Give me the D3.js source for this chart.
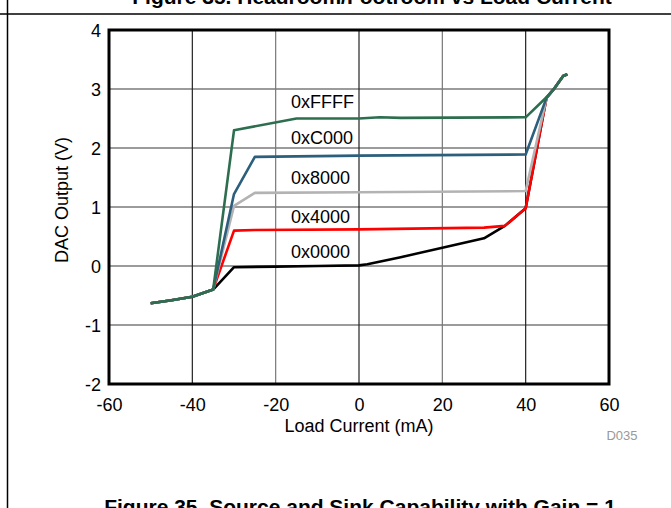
<!DOCTYPE html>
<html>
<meta charset="utf-8">
<style>
body { margin: 0; background: #fff; }
svg text { font-family: "Liberation Sans", Arial, sans-serif; fill: #000; }
.tick-label { font-size: 18px; }
.axis-title { font-size: 18px; }
.code-label { font-size: 18px; }
.fig-title { font-size: 21px; font-weight: bold; }
.grid-h { stroke: #7a7a7a; stroke-width: 1.5; }
.grid-v { stroke: #222; stroke-width: 1.2; }
.grid-v.light { stroke: #777; }
.curve { fill: none; stroke-width: 2.6; stroke-linejoin: round; }
</style>
<body>
<script src="https://d3js.org/d3.v7.min.js"></script>
<script>

// tick values
var xTicks = [-60, -40, -20, 0, 20, 40, 60];
var yTicks = [-2, -1, 0, 1, 2, 3, 4];

// DAC codes, bottom to top
var codes = ["0x0000", "0x4000", "0x8000", "0xC000", "0xFFFF"];

// load current (mA) / output (V)
var x0000 = [-50, -45, -40, -35, -30, -20, -10, 0, 2, 10, 20, 30, 35, 40, 45, 47, 49, 50];
var y0000 = [-0.63, -0.58, -0.52, -0.40, -0.02, -0.01, 0, 0.01, 0.03, 0.15, 0.31, 0.47, 0.68, 0.98, 2.85, 3.02, 3.22, 3.25];

var x4000 = [-50, -45, -40, -35, -30, -25, 0, 30, 35, 40, 45, 47, 49, 50];
var y4000 = [-0.63, -0.58, -0.52, -0.40, 0.60, 0.61, 0.62, 0.65, 0.68, 0.98, 2.85, 3.02, 3.22, 3.25];

var x8000 = [-50, -45, -40, -35, -30, -25, 0, 40, 45, 47, 49, 50];
var y8000 = [-0.63, -0.58, -0.52, -0.40, 1.02, 1.24, 1.25, 1.27, 2.85, 3.02, 3.22, 3.25];

var xC000 = [-50, -45, -40, -35, -30, -25, 0, 40, 45, 47, 49, 50];
var yC000 = [-0.63, -0.58, -0.52, -0.40, 1.22, 1.85, 1.87, 1.89, 2.85, 3.02, 3.22, 3.25];

var xFFFF = [-50, -45, -40, -35, -30, -15, 0, 5, 10, 40, 45, 47, 49, 50];
var yFFFF = [-0.63, -0.58, -0.52, -0.40, 2.30, 2.50, 2.50, 2.52, 2.51, 2.52, 2.86, 3.02, 3.22, 3.25];

var colors = ["#000000", "#ff0000", "#b3b3b3", "#2b5f7c", "#2d6e4f"];

var series = [
  {code: codes[0], xs: x0000, ys: y0000},
  {code: codes[1], xs: x4000, ys: y4000},
  {code: codes[2], xs: x8000, ys: y8000},
  {code: codes[3], xs: xC000, ys: yC000},
  {code: codes[4], xs: xFFFF, ys: yFFFF}
];

var svg = d3.select("body").append("svg")
    .attr("width", 671)
    .attr("height", 508);

// page frame
svg.append("line").attr("x1", 0).attr("x2", 671).attr("y1", 14).attr("y2", 14)
    .attr("stroke", "#000").attr("stroke-width", 1.5);
svg.append("line").attr("x1", 7.5).attr("x2", 7.5).attr("y1", 0).attr("y2", 508)
    .attr("stroke", "#000").attr("stroke-width", 1.5);

// captions run off the page edges, as in the source scan
svg.append("text").attr("class", "fig-title")
    .attr("x", 372).attr("y", 4).attr("text-anchor", "middle")
    .text("Figure 35. Headroom/Footroom vs Load Current");

svg.append("text").attr("class", "fig-title")
    .attr("x", 360).attr("y", 514).attr("text-anchor", "middle")
    .text("Figure 35. Source and Sink Capability with Gain = 1");

var x = d3.scaleLinear().domain([-60, 60]).range([109, 609]);
var y = d3.scaleLinear().domain([-2, 4]).range([384, 30]);

var grid = svg.append("g");

grid.selectAll(".grid-h")
  .data(yTicks.slice(1, -1))
  .enter()
  .append("line")
  .attr("class", "grid-h")
  .attr("x1", x(-60)).attr("x2", x(60))
  .attr("y1", function(d) { return y(d); })
  .attr("y2", function(d) { return y(d); });

grid.selectAll(".grid-v")
  .data(xTicks.slice(1, -1))
  .enter()
  .append("line")
  .attr("class", function(d) { return (d == -20 || d == 20) ? "grid-v light" : "grid-v"; })
  .attr("y1", y(-2)).attr("y2", y(4))
  .attr("x1", function(d) { return x(d); })
  .attr("x2", function(d) { return x(d); });

// axes (labels only, frame drawn as rect)
var fmt = function(d) { return String(d); };
var xAxis = svg.append("g")
    .attr("transform", "translate(0," + y(-2) + ")")
    .call(d3.axisBottom(x).tickValues(xTicks).tickFormat(fmt).tickSize(0).tickPadding(14));
var yAxis = svg.append("g")
    .attr("transform", "translate(" + x(-60) + ",0)")
    .call(d3.axisLeft(y).tickValues(yTicks).tickFormat(fmt).tickSize(0).tickPadding(8));

[xAxis, yAxis].forEach(function(a) {
  a.select(".domain").remove();
  a.selectAll("text")
    .attr("class", "tick-label")
    .attr("font-family", null)
    .attr("font-size", null)
    .attr("fill", "#000");
});
yAxis.selectAll("text").attr("dy", "0.36em");

var line = d3.line()
    .x(function(d) { return x(d[0]); })
    .y(function(d) { return y(d[1]); });

svg.append("g").selectAll(".curve")
  .data(series)
  .enter()
  .append("path")
  .attr("class", "curve")
  .attr("stroke", function(d, i) { return colors[i]; })
  .attr("d", function(d) {
    return line(d.xs.map(function(v, i) { return [v, d.ys[i]]; }));
  });

// code labels
var labelY = [0.14, 0.73, 1.39, 2.07, 2.68];
svg.append("g").selectAll(".code-label")
  .data(codes)
  .enter()
  .append("text")
  .attr("class", "code-label")
  .attr("x", x(-16.3))
  .attr("y", function(d, i) { return y(labelY[i]); })
  .text(function(d) { return d; });

// plot frame
svg.append("rect")
    .attr("x", x(-60)).attr("y", y(4))
    .attr("width", x(60) - x(-60)).attr("height", y(-2) - y(4))
    .attr("fill", "none").attr("stroke", "#000").attr("stroke-width", 3);

svg.append("text").attr("class", "axis-title")
    .attr("x", (x(-60) + x(60)) / 2).attr("y", 432).attr("text-anchor", "middle")
    .text("Load Current (mA)");

svg.append("text").attr("class", "axis-title")
    .attr("transform", "translate(68,200) rotate(-90)")
    .attr("text-anchor", "middle")
    .text("DAC Output (V)");

svg.append("text")
    .attr("x", 622).attr("y", 440).attr("text-anchor", "middle")
    .attr("font-size", 13)
    .style("fill", "#999")
    .text("D035");

</script>
</body>
</html>
